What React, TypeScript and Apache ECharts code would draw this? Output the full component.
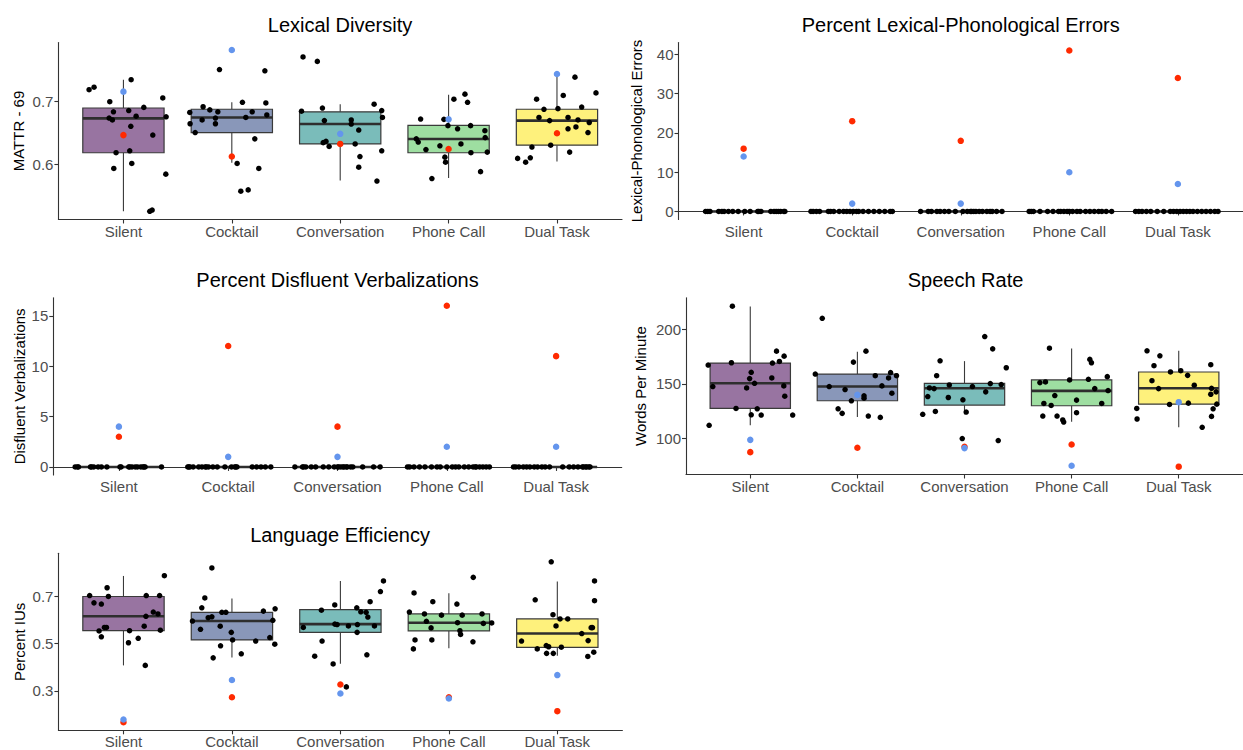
import React, { useEffect, useRef } from "react";
import * as echarts from "echarts";

const categories = ["Silent", "Cocktail", "Conversation", "Phone Call", "Dual Task"];
const boxFills = [
  "rgba(68,1,84,0.55)",
  "rgba(59,82,139,0.6)",
  "rgba(33,144,140,0.6)",
  "rgba(93,200,99,0.6)",
  "rgba(253,231,37,0.6)",
];

// ---------- Lexical Diversity (MATTR - 69) ----------
// box stats: [lower whisker, Q1, median, Q3, upper whisker]
const lexDivBoxes = [
  [0.526, 0.619, 0.6735, 0.69, 0.735],
  [0.603, 0.651, 0.675, 0.688, 0.699],
  [0.575, 0.633, 0.6645, 0.684, 0.696],
  [0.579, 0.619, 0.6407, 0.6624, 0.711],
  [0.605, 0.631, 0.67, 0.688, 0.744],
];
// jittered participants: [x offset from category, value]
const lexDivPoints = [
  [[-0.317, 0.719], [-0.271, 0.723], [0.071, 0.735], [-0.126, 0.7], [-0.092, 0.684], [0.049, 0.686], [0.188, 0.691], [0.363, 0.706], [0.394, 0.676], [-0.132, 0.674], [-0.102, 0.671], [0.117, 0.677], [0.068, 0.661], [0.271, 0.647], [-0.068, 0.619], [0.058, 0.622], [-0.089, 0.594], [0.077, 0.602], [0.391, 0.585], [0.243, 0.526], [0.265, 0.528]],
  [[-0.114, 0.751], [0.305, 0.749], [0.098, 0.699], [0.314, 0.698], [-0.265, 0.692], [-0.203, 0.687], [-0.129, 0.684], [-0.388, 0.683], [0.188, 0.684], [0.323, 0.679], [-0.274, 0.671], [-0.151, 0.674], [0.129, 0.675], [-0.385, 0.665], [-0.151, 0.665], [-0.338, 0.651], [0.212, 0.641], [0.049, 0.602], [0.249, 0.594], [0.083, 0.558], [0.151, 0.56]],
  [[-0.343, 0.771], [-0.211, 0.764], [-0.357, 0.685], [-0.164, 0.69], [-0.146, 0.67], [0.102, 0.671], [0.102, 0.6645], [0.313, 0.696], [0.383, 0.686], [0.39, 0.675], [0.171, 0.655], [-0.157, 0.635], [-0.131, 0.637], [-0.102, 0.629], [0.138, 0.633], [0.182, 0.613], [0.171, 0.596], [0.383, 0.622], [0.339, 0.574]],
  [[0.049, 0.704], [0.151, 0.712], [0.175, 0.699], [-0.258, 0.6725], [-0.043, 0.672], [-0.006, 0.662], [0.083, 0.657], [0.203, 0.662], [0.335, 0.654], [0.338, 0.643], [-0.298, 0.641], [-0.28, 0.636], [-0.209, 0.624], [-0.08, 0.63], [0.114, 0.633], [0.206, 0.619], [0.357, 0.62], [-0.034, 0.612], [-0.028, 0.604], [-0.154, 0.578], [0.295, 0.589]],
  [[0.166, 0.739], [0.36, 0.714], [0.058, 0.71], [-0.188, 0.704], [-0.12, 0.688], [0.009, 0.689], [0.228, 0.6915], [-0.166, 0.675], [-0.068, 0.67], [0.102, 0.675], [0.194, 0.671], [0.298, 0.667], [0.102, 0.657], [0.175, 0.66], [0.286, 0.651], [-0.231, 0.628], [-0.058, 0.631], [0.117, 0.62], [-0.363, 0.61], [-0.289, 0.604], [-0.246, 0.611]],
];
const lexDivRed = [0.647, 0.613, 0.633, 0.625, 0.65];
const lexDivBlue = [0.716, 0.782, 0.649, 0.672, 0.744];

// ---------- Percent Lexical-Phonological Errors ----------
const lexPhonBoxes = [
  [0, 0, 0, 0, 0],
  [0, 0, 0, 0, 0],
  [0, 0, 0, 0, 0],
  [0, 0, 0, 0, 0],
  [0, 0, 0, 0, 0],
];
const lexPhonBlackScore = 0;
const lexPhonJitter = [
  [-0.35, -0.33, -0.31, -0.23, -0.2, -0.18, -0.14, -0.1, -0.05, 0.01, 0.06, 0.13, 0.14, 0.16, 0.25, 0.28, 0.3, 0.32, 0.34, 0.37, 0.38],
  [-0.38, -0.36, -0.33, -0.3, -0.22, -0.2, -0.17, -0.12, -0.08, -0.05, -0.02, 0.01, 0.04, 0.06, 0.1, 0.15, 0.2, 0.25, 0.3, 0.35, 0.37],
  [-0.37, -0.3, -0.27, -0.22, -0.19, -0.15, -0.11, -0.05, 0.02, 0.06, 0.09, 0.1, 0.12, 0.14, 0.17, 0.2, 0.24, 0.27, 0.29, 0.33, 0.38],
  [-0.37, -0.35, -0.33, -0.27, -0.2, -0.15, -0.1, -0.08, -0.05, -0.02, 0.0, 0.03, 0.07, 0.1, 0.15, 0.19, 0.23, 0.27, 0.3, 0.34, 0.39],
  [-0.39, -0.36, -0.33, -0.29, -0.25, -0.19, -0.13, -0.07, -0.04, -0.01, 0.02, 0.05, 0.08, 0.11, 0.14, 0.18, 0.22, 0.26, 0.3, 0.34, 0.37],
];
const lexPhonRed = [16, 23, 18, 41, 34];
const lexPhonBlue = [14, 2, 2, 10, 7];

// ---------- Percent Disfluent Verbalizations ----------
const disfBoxes = [
  [0, 0, 0, 0, 0],
  [0, 0, 0, 0, 0],
  [0, 0, 0, 0, 0],
  [0, 0, 0, 0, 0],
  [0, 0, 0, 0, 0],
];
const disfBlackScore = 0;
const disfJitter = [
  [-0.4, -0.38, -0.37, -0.26, -0.25, -0.23, -0.19, -0.16, -0.11, 0.01, 0.02, 0.09, 0.1, 0.12, 0.15, 0.17, 0.2, 0.22, 0.23, 0.24, 0.39],
  [-0.37, -0.36, -0.35, -0.32, -0.27, -0.24, -0.21, -0.2, -0.18, -0.14, -0.1, -0.03, 0.03, 0.06, 0.07, 0.08, 0.22, 0.26, 0.3, 0.34, 0.39],
  [-0.39, -0.32, -0.31, -0.29, -0.24, -0.2, -0.13, -0.08, -0.03, 0, 0.01, 0.03, 0.05, 0.06, 0.08, 0.09, 0.12, 0.14, 0.23, 0.33, 0.39],
  [-0.36, -0.34, -0.3, -0.25, -0.2, -0.14, -0.09, -0.06, 0.0, 0.05, 0.08, 0.11, 0.16, 0.2, 0.24, 0.26, 0.27, 0.3, 0.33, 0.36, 0.39],
  [-0.39, -0.37, -0.34, -0.3, -0.27, -0.24, -0.2, -0.17, -0.13, -0.1, -0.06, 0.06, 0.12, 0.16, 0.2, 0.24, 0.25, 0.27, 0.28, 0.3, 0.31],
];
const disfRed = [3, 12, 4, 16, 11];
const disfBlue = [4, 1, 1, 2, 2];

// ---------- Speech Rate (Words Per Minute) ----------
const rateBoxes = [
  [111.9, 127.4, 150.6, 169.2, 221.3],
  [119.5, 134.5, 147.6, 159.1, 179.6],
  [122, 130.5, 146, 150.6, 171],
  [115.2, 129.9, 143.6, 153.7, 182.6],
  [110.1, 131.4, 146, 161, 180.5],
];
const ratePoints = [
  [[-0.167, 221.6], [-0.393, 167.4], [-0.176, 169.5], [0.245, 180.2], [0.316, 175.6], [0.272, 170.7], [0.207, 169.2], [0.009, 160.7], [-0.006, 154.9], [0.201, 155.5], [0.04, 150.6], [-0.35, 147.6], [-0.034, 146.3], [0.313, 148.2], [0.322, 138.7], [-0.133, 127.4], [0.065, 127.1], [0.009, 121.6], [0.102, 121.3], [0.396, 121.3], [-0.384, 111.9]],
  [[-0.328, 210.4], [0.08, 180.2], [-0.037, 170.1], [-0.393, 159.1], [0.167, 157.6], [0.31, 160.4], [0.291, 155.5], [0.365, 157.6], [-0.263, 147.6], [0.229, 148.2], [-0.115, 144.8], [0.322, 141.5], [-0.056, 134.5], [0.062, 139.0], [0.062, 136.9], [-0.18, 127.1], [-0.142, 122.9], [0.102, 120.4], [0.214, 119.2]],
  [[-0.228, 171.3], [-0.26, 157.6], [-0.327, 146.3], [-0.284, 145.7], [-0.142, 149.1], [-0.343, 138.4], [-0.151, 137.5], [-0.272, 124.7], [-0.39, 122], [-0.015, 135.4], [-0.021, 99.7], [0.189, 193.6], [0.263, 182.3], [0.39, 164.9], [0.241, 150.3], [0.343, 149.4], [0.074, 147.6], [0.198, 142.7], [0.016, 124.1], [0.315, 97.9]],
  [[-0.207, 182.9], [0.17, 172.6], [0.185, 169.5], [-0.296, 151.2], [-0.244, 151.8], [-0.019, 153.7], [0.157, 154.3], [0.333, 156.7], [0.216, 145.7], [0.34, 143.9], [-0.157, 139.3], [0.046, 135.1], [-0.259, 132], [-0.191, 130.2], [0.281, 132], [-0.269, 120.4], [-0.136, 120.4], [-0.083, 116.8], [-0.074, 114.9], [0.046, 123.5]],
  [[-0.296, 180.5], [-0.176, 175.9], [-0.231, 166.8], [-0.077, 161], [0.019, 162.2], [0.083, 157.9], [-0.25, 153], [0.299, 167.7], [-0.188, 145.7], [0.145, 148.8], [0.306, 146], [0.349, 142.7], [0.299, 140.5], [-0.086, 131.1], [0.09, 132.3], [0.355, 131.4], [0.321, 127.1], [0.306, 120.1], [0.219, 110.1], [-0.392, 127.4], [-0.389, 117.7]],
];
const rateRed = [87.2, 91.2, 92.1, 94.2, 73.8];
const rateBlue = [98.5, 139.9, 90.9, 74.7, 133.2];

// ---------- Language Efficiency (Percent IUs) ----------
const effBoxes = [
  [0.408, 0.555, 0.616, 0.7, 0.787],
  [0.442, 0.516, 0.596, 0.633, 0.692],
  [0.415, 0.548, 0.583, 0.644, 0.766],
  [0.481, 0.554, 0.589, 0.626, 0.714],
  [0.449, 0.484, 0.543, 0.605, 0.763],
];
const effPoints = [
  [[-0.312, 0.704], [-0.151, 0.737], [-0.139, 0.7], [-0.272, 0.673], [-0.204, 0.668], [0.21, 0.704], [0.333, 0.704], [0.377, 0.788], [0.275, 0.634], [0.318, 0.626], [0.207, 0.616], [0.191, 0.574], [-0.176, 0.569], [-0.157, 0.569], [-0.225, 0.554], [0.056, 0.555], [0.34, 0.557], [-0.204, 0.529], [0.136, 0.523], [0.046, 0.504], [0.201, 0.408]],
  [[-0.185, 0.821], [-0.25, 0.694], [-0.278, 0.652], [-0.093, 0.633], [-0.056, 0.633], [0.29, 0.638], [0.398, 0.648], [-0.219, 0.61], [-0.185, 0.614], [-0.364, 0.596], [0.377, 0.599], [-0.29, 0.561], [-0.108, 0.574], [-0.006, 0.548], [0.006, 0.516], [0.219, 0.511], [0.349, 0.526], [0.395, 0.498], [-0.105, 0.491], [0.086, 0.457], [-0.173, 0.44]],
  [[-0.342, 0.569], [-0.175, 0.642], [-0.052, 0.664], [-0.169, 0.511], [-0.237, 0.447], [-0.067, 0.414], [-0.03, 0.581], [-0.051, 0.583], [0.151, 0.652], [0.188, 0.635], [0.237, 0.633], [0.253, 0.613], [0.274, 0.678], [0.369, 0.721], [0.397, 0.766], [0.074, 0.575], [0.157, 0.581], [0.314, 0.575], [0.154, 0.548], [0.244, 0.453], [0.055, 0.317]],
  [[-0.321, 0.715], [-0.148, 0.678], [0.074, 0.668], [0.225, 0.781], [-0.364, 0.634], [-0.225, 0.626], [-0.068, 0.621], [0.123, 0.621], [0.306, 0.626], [-0.207, 0.595], [0.08, 0.589], [0.318, 0.586], [0.395, 0.588], [-0.164, 0.567], [0.102, 0.555], [0.108, 0.539], [-0.312, 0.516], [-0.157, 0.516], [0.222, 0.508], [-0.327, 0.478]],
  [[-0.056, 0.847], [-0.204, 0.686], [0.343, 0.766], [0.343, 0.682], [-0.04, 0.623], [0.025, 0.605], [0.096, 0.605], [-0.012, 0.575], [0.312, 0.568], [0.324, 0.568], [0.225, 0.543], [-0.33, 0.511], [0.284, 0.513], [0.336, 0.464], [-0.185, 0.478], [-0.102, 0.492], [-0.08, 0.487], [0.037, 0.485], [-0.099, 0.459], [-0.037, 0.459], [0.281, 0.446]],
];
const effRed = [0.167, 0.273, 0.327, 0.273, 0.214];
const effBlue = [0.179, 0.346, 0.289, 0.268, 0.367];

const FONT = '"Liberation Sans", Arial, Helvetica, sans-serif';

type Panel = {
  title: string;
  yName: string;
  left: number;
  top: number;
  width: number;
  height: number;
  yMin: number;
  yMax: number;
  yTicks: number[];
  decimals: number;
  titleX: number;
  titleY: number;
  yNameX: number;
  boxes: number[][];
  points: number[][][];
  red: number[];
  blue: number[];
};

const panels: Panel[] = [
  {
    title: "Lexical Diversity", yName: "MATTR - 69",
    left: 58.4, top: 42.5, width: 563.6, height: 177,
    yMin: 0.513, yMax: 0.794, yTicks: [0.6, 0.7], decimals: 1,
    titleX: 340, titleY: 25, yNameX: 18,
    boxes: lexDivBoxes, points: lexDivPoints, red: lexDivRed, blue: lexDivBlue,
  },
  {
    title: "Percent Lexical-Phonological Errors", yName: "Lexical-Phonological Errors",
    left: 678.5, top: 42.5, width: 564.5, height: 177,
    yMin: -2.05, yMax: 43.05, yTicks: [0, 10, 20, 30, 40], decimals: 0,
    titleX: 960.7, titleY: 25, yNameX: 636,
    boxes: lexPhonBoxes, points: lexPhonJitter.map((arr) => arr.map((dx) => [dx, lexPhonBlackScore])),
    red: lexPhonRed, blue: lexPhonBlue,
  },
  {
    title: "Percent Disfluent Verbalizations", yName: "Disfluent Verbalizations",
    left: 53.3, top: 297.7, width: 568.4, height: 177.3,
    yMin: -0.8, yMax: 16.8, yTicks: [0, 5, 10, 15], decimals: 0,
    titleX: 337.5, titleY: 280, yNameX: 19,
    boxes: disfBoxes, points: disfJitter.map((arr) => arr.map((dx) => [dx, disfBlackScore])),
    red: disfRed, blue: disfBlue,
  },
  {
    title: "Speech Rate", yName: "Words Per Minute",
    left: 686, top: 297.7, width: 559, height: 176.8,
    yMin: 66.6, yMax: 229.4, yTicks: [100, 150, 200], decimals: 0,
    titleX: 965.5, titleY: 280, yNameX: 640,
    boxes: rateBoxes, points: ratePoints, red: rateRed, blue: rateBlue,
  },
  {
    title: "Language Efficiency", yName: "Percent IUs",
    left: 58.4, top: 553.3, width: 564, height: 177,
    yMin: 0.133, yMax: 0.883, yTicks: [0.3, 0.5, 0.7], decimals: 1,
    titleX: 340, titleY: 535, yNameX: 19,
    boxes: effBoxes, points: effPoints, red: effRed, blue: effBlue,
  },
];

const catTicks = categories.map((_, i) => i + 1);

function buildOption() {
  const grid = panels.map((p) => ({ left: p.left, top: p.top, width: p.width, height: p.height }));
  const axisLineStyle = { color: "#333333", width: 1.1 };
  const xAxis = panels.map((p, i) => ({
    type: "value",
    gridIndex: i,
    min: 0.4,
    max: 5.6,
    axisLine: { show: true, lineStyle: axisLineStyle },
    axisTick: { show: true, length: 4, customValues: catTicks, lineStyle: axisLineStyle },
    axisLabel: {
      customValues: catTicks,
      formatter: (v: number) => categories[Math.round(v) - 1] ?? "",
      color: "#4d4d4d",
      fontSize: 15,
      fontFamily: FONT,
      margin: 4,
    },
    splitLine: { show: false },
  }));
  const yAxis = panels.map((p, i) => ({
    type: "value",
    gridIndex: i,
    min: p.yMin,
    max: p.yMax,
    axisLine: { show: true, lineStyle: axisLineStyle },
    axisTick: { show: true, length: 4, customValues: p.yTicks, lineStyle: axisLineStyle },
    axisLabel: {
      customValues: p.yTicks,
      formatter: (v: number) => v.toFixed(p.decimals),
      color: "#4d4d4d",
      fontSize: 15,
      fontFamily: FONT,
      margin: 5,
    },
    splitLine: { show: false },
  }));

  const series: any[] = [];
  panels.forEach((p, i) => {
    series.push({
      type: "custom",
      xAxisIndex: i,
      yAxisIndex: i,
      silent: true,
      encode: { x: 0, y: [1, 2, 3, 4, 5] },
      data: p.boxes.map((b, j) => [j + 1, ...b]),
      renderItem: (params: any, api: any) => {
        const x = api.value(0);
        const pLo = api.coord([x, api.value(1)]);
        const pQ1 = api.coord([x, api.value(2)]);
        const pMed = api.coord([x, api.value(3)]);
        const pQ3 = api.coord([x, api.value(4)]);
        const pHi = api.coord([x, api.value(5)]);
        const halfW = api.size([0.75, 0])[0] / 2;
        const cx = pMed[0];
        const stroke = "#3a3a3a";
        return {
          type: "group",
          children: [
            { type: "line", shape: { x1: cx, y1: pHi[1], x2: cx, y2: pQ3[1] }, style: { stroke, lineWidth: 1.1 } },
            { type: "line", shape: { x1: cx, y1: pQ1[1], x2: cx, y2: pLo[1] }, style: { stroke, lineWidth: 1.1 } },
            {
              type: "rect",
              shape: { x: cx - halfW, y: pQ3[1], width: halfW * 2, height: pQ1[1] - pQ3[1] },
              style: { fill: boxFills[Math.round(x) - 1], stroke, lineWidth: 1.2 },
            },
            { type: "line", shape: { x1: cx - halfW, y1: pMed[1], x2: cx + halfW, y2: pMed[1] }, style: { stroke: "#2e2e2e", lineWidth: 2.6 } },
          ],
        };
      },
    });
    series.push({
      type: "scatter",
      xAxisIndex: i,
      yAxisIndex: i,
      silent: true,
      symbolSize: 5.5,
      itemStyle: { color: "#000000", opacity: 1 },
      data: p.points.flatMap((arr, j) => arr.map(([dx, v]) => [j + 1 + dx, v])),
    });
    series.push({
      type: "scatter",
      xAxisIndex: i,
      yAxisIndex: i,
      silent: true,
      symbolSize: 6.5,
      itemStyle: { color: "#ff2a00", opacity: 1 },
      data: p.red.map((v, j) => [j + 1, v]),
    });
    series.push({
      type: "scatter",
      xAxisIndex: i,
      yAxisIndex: i,
      silent: true,
      symbolSize: 6.5,
      itemStyle: { color: "#6495ed", opacity: 1 },
      data: p.blue.map((v, j) => [j + 1, v]),
    });
  });

  const graphic: any[] = [];
  panels.forEach((p) => {
    graphic.push({
      type: "text",
      x: p.titleX,
      y: p.titleY,
      silent: true,
      style: {
        text: p.title,
        fill: "#000000",
        fontSize: 20,
        fontFamily: FONT,
        textAlign: "center",
        textVerticalAlign: "middle",
      },
    });
    graphic.push({
      type: "text",
      x: p.yNameX,
      y: p.top + p.height / 2,
      rotation: Math.PI / 2,
      silent: true,
      style: {
        text: p.yName,
        fill: "#000000",
        fontSize: 15,
        fontFamily: FONT,
        textAlign: "center",
        textVerticalAlign: "middle",
      },
    });
  });

  return {
    animation: false,
    backgroundColor: "#ffffff",
    textStyle: { fontFamily: FONT },
    grid,
    xAxis,
    yAxis,
    series,
    graphic,
  };
}

export default function App() {
  const ref = useRef<HTMLDivElement | null>(null);
  useEffect(() => {
    if (!ref.current) return;
    const chart = echarts.init(ref.current, undefined, { renderer: "svg" });
    chart.setOption(buildOption() as any);
    return () => {
      chart.dispose();
    };
  }, []);
  return (
    <div
      ref={ref}
      style={{ position: "absolute", left: 0, top: 0, width: 1243, height: 750, background: "#ffffff" }}
    />
  );
}
